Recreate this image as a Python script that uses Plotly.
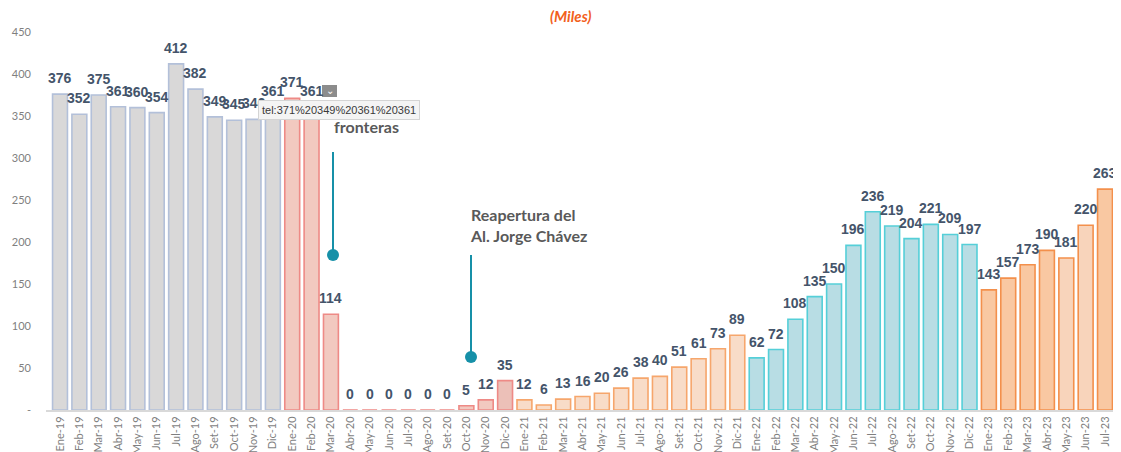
import plotly.graph_objects as go

months = ["Ene", "Feb", "Mar", "Abr", "May", "Jun", "Jul", "Ago", "Set", "Oct", "Nov", "Dic"]
categories = [f"{m}-{y}" for y in ["19", "20", "21", "22"] for m in months] + \
             [f"{m}-23" for m in months[:7]]

values_2019 = [376, 352, 375, 361, 360, 354, 412, 382, 349, 345, 346, 361]
values_2020 = [371, 361, 114, 0, 0, 0, 0, 0, 0, 5, 12, 35]
values_2021 = [12, 6, 13, 16, 20, 26, 38, 40, 51, 61, 73, 89]
values_2022 = [62, 72, 108, 135, 150, 196, 236, 219, 204, 221, 209, 197]
values_2023 = [143, 157, 173, 190, 181, 220, 263]
values = values_2019 + values_2020 + values_2021 + values_2022 + values_2023

y_ticks = [0, 50, 100, 150, 200, 250, 300, 350, 400, 450]
y_tick_labels = ["-", "50", "100", "150", "200", "250", "300", "350", "400", "450"]

# colours by group
fills, lines = [], []
for c in categories:
    yr = c[-2:]
    if yr == "19":
        f, l = "#d9d8d8", "#b3c0d9"
    elif yr == "20":
        f, l = "#f2c9c0", "#ee8a86"
        if c == "Dic-20":
            f = "#ecc0b8"
    elif yr == "21":
        f, l = "#f8dcc8", "#f6a66c"
    elif yr == "22":
        f, l = "#b8dde4", "#55cfd8"
    else:
        f, l = "#f9c8a2", "#f3904c"
        if c in ("May-23", "Jun-23"):
            f = "#f8d4bb"
    fills.append(f)
    lines.append(l)

fig = go.Figure()
fig.add_trace(go.Bar(
    x=categories, y=values,
    marker=dict(color=fills, line=dict(color=lines, width=1.6)),
    hoverinfo="x+y",
    showlegend=False,
))

label_font = dict(family="Liberation Sans, Arial, sans-serif", size=14, color="#44546a")
annotations = []
for c, v in zip(categories, values):
    annotations.append(dict(x=c, y=v, xref="x", yref="y", text=f"<b>{v}</b>",
                            showarrow=False, yanchor="bottom", yshift=6, font=label_font))

# page-pixel geometry of the plot area (page has an 8px body margin)
OFF = 8
L, R, T, B = 46, 1119, 32, 410
def px(x):
    return (x - L) / (R - L)
def py(y):
    return (B - y) / (B - T)

note_font = dict(family="Lato, Noto Sans, sans-serif", size=16, color="#595959")
annotations += [
    dict(xref="paper", yref="paper", x=px(332), y=py(94), xanchor="left", yanchor="top",
         text="<b>Cierre de</b><br><b>fronteras</b>", align="left", showarrow=False, font=note_font),
    dict(xref="paper", yref="paper", x=px(468), y=py(203), xanchor="left", yanchor="top",
         text="<b>Reapertura del</b><br><b>Al. Jorge Chávez</b>", align="left", showarrow=False,
         font=note_font),
    # tooltip artefact
    dict(xref="paper", yref="paper", x=px(258), y=py(110), xanchor="left", yanchor="middle",
         text="tel:371%20349%20361%20361", showarrow=False,
         font=dict(family="Liberation Sans, Arial, sans-serif", size=11, color="#3a3a3a"),
         bgcolor="#f4f4f4", bordercolor="#d4d4d4", borderwidth=1, borderpad=3),
    dict(xref="paper", yref="paper", x=px(329.5), y=py(91), xanchor="center", yanchor="middle",
         text="⌄", showarrow=False, font=dict(size=10, color="white")),
    dict(xref="paper", yref="paper", x=px(570), y=py(16), xanchor="center", yanchor="middle",
         text="<b><i>(Miles)</i></b>", showarrow=False,
         font=dict(family="Lato, Noto Sans, sans-serif", size=15, color="#f2601c")),
]

teal = "#1690a8"
shapes = [
    dict(type="line", xref="paper", yref="paper", x0=px(333), x1=px(333), y0=py(152), y1=py(255),
         line=dict(color=teal, width=2)),
    dict(type="circle", xref="paper", yref="paper", x0=px(327), x1=px(339), y0=py(249), y1=py(261),
         fillcolor=teal, line=dict(color=teal, width=0)),
    dict(type="line", xref="paper", yref="paper", x0=px(471), x1=px(471), y0=py(255), y1=py(357),
         line=dict(color=teal, width=2)),
    dict(type="circle", xref="paper", yref="paper", x0=px(465), x1=px(477), y0=py(351), y1=py(363),
         fillcolor=teal, line=dict(color=teal, width=0)),
    dict(type="rect", xref="paper", yref="paper", x0=px(322), x1=px(337), y0=py(97), y1=py(85),
         fillcolor="#8c8c8c", line=dict(color="#8c8c8c", width=0)),
]

W, H = 1121 - OFF, 452 - OFF
fig.update_layout(
    width=W, height=H,
    margin=dict(l=L - OFF, r=W - (R - OFF), t=T - OFF, b=H - (B - OFF)),
    paper_bgcolor="white", plot_bgcolor="white",
    bargap=0.23,
    annotations=annotations,
    shapes=shapes,
    font=dict(family="Liberation Sans, Arial, sans-serif"),
    xaxis=dict(
        type="category", tickangle=-90, automargin=False,
        tickfont=dict(family="Lato, Noto Sans, sans-serif", size=11, color="#7f7f7f"),
        showline=True, linecolor="#d9d9d9", linewidth=2, ticks="", showgrid=False,
    ),
    yaxis=dict(
        range=[0, 450], tickvals=y_ticks, ticktext=y_tick_labels, automargin=False,
        tickfont=dict(family="Lato, Noto Sans, sans-serif", size=11, color="#7f7f7f"),
        showgrid=False, zeroline=False, showline=False, ticks="", ticklabelstandoff=14,
    ),
)

fig.write_html("out.html")
